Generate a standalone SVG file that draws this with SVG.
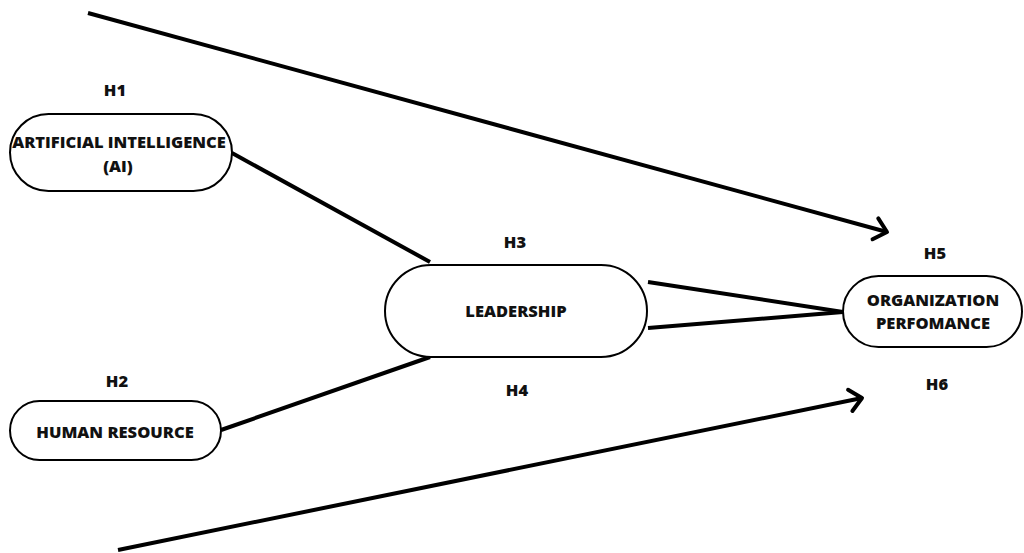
<svg xmlns="http://www.w3.org/2000/svg" width="1024" height="553" viewBox="0 0 1024 553">
<style>
.node{fill:#fff;stroke:#000;stroke-width:2}
.t{font-family:"Open Sans","Liberation Sans",sans-serif;font-weight:800;font-size:16.5px;fill:#111;text-anchor:middle}
.c{stroke:#000;stroke-width:4;fill:none;stroke-linecap:butt}
</style>
<defs>
<marker id="arr" markerWidth="8" markerHeight="8" refX="5" refY="4" orient="auto" markerUnits="strokeWidth">
<path d="M2,1.3 L5,4 L2,6.7" fill="none" stroke="#000" stroke-width="1" stroke-linecap="round" stroke-linejoin="round"/>
</marker>
</defs>
<rect width="1024" height="553" fill="#fff"/>
<g id="connectors">
<line class="c" x1="88" y1="13" x2="887" y2="232" marker-end="url(#arr)"/>
<line class="c" x1="232" y1="153" x2="430" y2="262"/>
<line class="c" x1="221" y1="430" x2="430" y2="357"/>
<line class="c" x1="648" y1="282" x2="843" y2="312"/>
<line class="c" x1="648" y1="328" x2="843" y2="312"/>
<line class="c" x1="118" y1="550" x2="862" y2="398" marker-end="url(#arr)"/>
</g>
<g id="ai">
<rect class="node" x="10" y="114" width="222" height="77" rx="38.5"/>
<text class="t" x="119" y="148">ARTIFICIAL INTELLIGENCE</text>
<text class="t" x="118" y="172">(AI)</text>
</g>
<g id="hr">
<rect class="node" x="10" y="401" width="211" height="59" rx="29.5"/>
<text class="t" x="115" y="438">HUMAN RESOURCE</text>
</g>
<g id="leadership">
<rect class="node" x="385" y="265" width="262" height="92" rx="46"/>
<text class="t" x="516" y="317">LEADERSHIP</text>
</g>
<g id="org">
<rect class="node" x="843" y="276" width="179" height="71" rx="35.5"/>
<text class="t" x="933" y="306">ORGANIZATION</text>
<text class="t" x="933" y="329">PERFOMANCE</text>
</g>
<g id="labels">
<text class="t" x="115" y="96">H1</text>
<text class="t" x="117" y="387">H2</text>
<text class="t" x="515" y="248">H3</text>
<text class="t" x="517" y="396">H4</text>
<text class="t" x="935" y="259">H5</text>
<text class="t" x="937" y="390">H6</text>
</g>
</svg>
